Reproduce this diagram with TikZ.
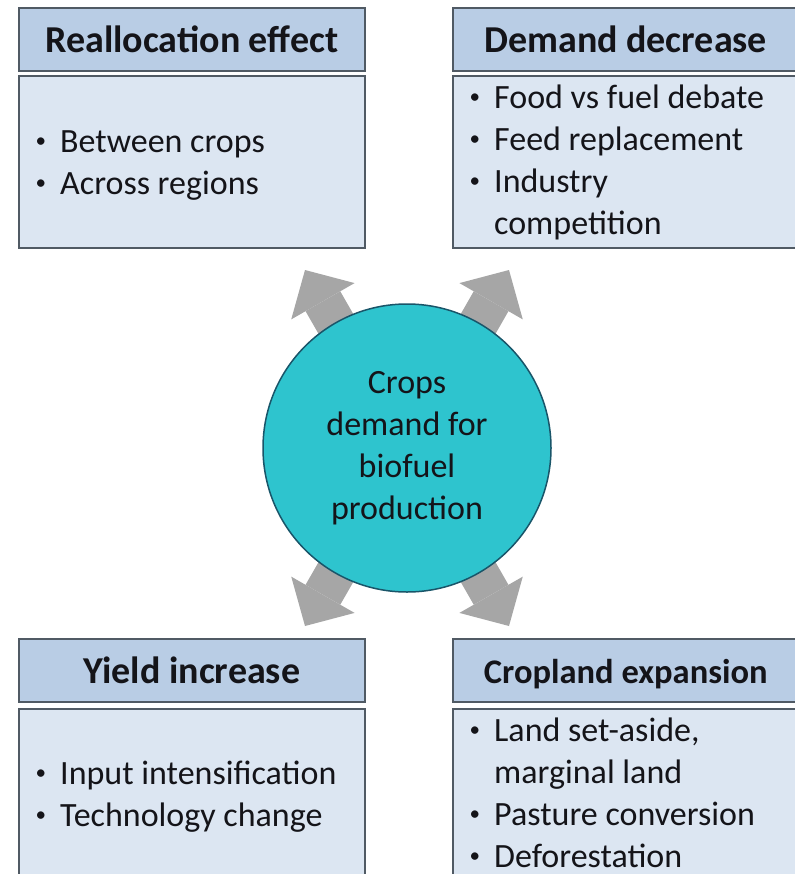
\documentclass[tikz,border=0pt]{standalone}
\usepackage{fontspec}
\setmainfont{Carlito}
\usetikzlibrary{arrows.meta}
\definecolor{hdrfill}{RGB}{185,205,229}
\definecolor{bodyfill}{RGB}{220,230,242}
\definecolor{boxline}{RGB}{80,90,100}
\definecolor{hubfill}{RGB}{46,196,206}
\definecolor{hubline}{RGB}{25,85,105}
\definecolor{arrowgray}{RGB}{166,166,166}
\definecolor{txt}{RGB}{20,20,25}
\newcommand{\bul}{\makebox[27bp][l]{\hspace{2.5bp}\raisebox{4.5bp}{\scalebox{0.62}{•}}}}
\newcommand{\ind}{\hspace*{27bp}}
\tikzset{
  hdrbox/.style={draw=boxline, line width=1.5bp, fill=hdrfill, minimum width=346bp, minimum height=63bp, inner sep=0pt, anchor=north west},
  bodybox/.style={draw=boxline, line width=1.5bp, fill=bodyfill, minimum width=346bp, inner sep=0pt, anchor=north west},
  hdrtext/.style={text=txt, inner sep=0pt, font=\bfseries\fontsize{38bp}{46bp}\selectfont, text height=27bp, text depth=0bp},
  bodytext/.style={text=txt, inner sep=0pt, anchor=base west, font=\fontsize{34bp}{42bp}\selectfont},
  bigarrow/.style={draw=arrowgray, line width=40bp, -{Triangle[width=73bp,length=36bp,line width=0pt]}},
  hub/.style={circle, draw=hubline, line width=1.5bp, fill=hubfill, minimum size=288bp, inner sep=0pt, text=txt, font=\fontsize{34bp}{42bp}\selectfont}
}
\begin{document}
\begin{tikzpicture}[x=1bp, y=-1bp]
\useasboundingbox (0,0) rectangle (795,874);
\fill[white] (0,0) rectangle (795,874);
\begin{scope}
\clip (0,0) rectangle (795,874);
% arrows behind the hub
\coordinate (ctr) at (407,448);
\coordinate (tipUL) at (305,270);
\coordinate (tipUR) at (509,270);
\coordinate (tipLL) at (305,626);
\coordinate (tipLR) at (509,626);
\draw[bigarrow] (ctr) -- (tipUL);
\draw[bigarrow] (ctr) -- (tipUR);
\draw[bigarrow] (ctr) -- (tipLL);
\draw[bigarrow] (ctr) -- (tipLR);
\node[hub] (hub) at (ctr) {\begin{tabular}{@{}c@{}}Crops\\ demand for\\ biofuel\\ production\end{tabular}};

% top left
\node[hdrbox] (tlh) at (18,7) {};
\node[hdrtext] (tlht) at (tlh.center) {Reallocation effect};
\node[bodybox, minimum height=172bp] (tlb) at (18,75) {};
\node[bodytext] (tlbt) at (33,152) {\begin{tabular}[t]{@{}l@{}}\bul Between crops\\ \bul Across regions\end{tabular}};

% top right
\node[hdrbox] (trh) at (452,7) {};
\node[hdrtext] (trht) at (trh.center) {Demand decrease};
\node[bodybox, minimum height=172bp] (trb) at (452,75) {};
\node[bodytext] (trbt) at (467,108) {\begin{tabular}[t]{@{}l@{}}\bul Food vs fuel debate\\ \bul Feed replacement\\ \bul Industry\\ \ind competition\end{tabular}};

% bottom left
\node[hdrbox] (blh) at (18,638) {};
\node[hdrtext] (blht) at (blh.center) {Yield increase};
\node[bodybox, minimum height=190bp] (blb) at (18,708) {};
\node[bodytext] (blbt) at (33,784) {\begin{tabular}[t]{@{}l@{}}\bul Input intensification\\ \bul Technology change\end{tabular}};

% bottom right
\node[hdrbox] (brh) at (452,638) {};
\node[hdrtext, font=\bfseries\fontsize{34.5bp}{42bp}\selectfont] (brht) at (brh.center) {Cropland expansion};
\node[bodybox, minimum height=190bp] (brb) at (452,708) {};
\node[bodytext] (brbt) at (467,741) {\begin{tabular}[t]{@{}l@{}}\bul Land set-aside,\\ \ind marginal land\\ \bul Pasture conversion\\ \bul Deforestation\end{tabular}};
\end{scope}
\end{tikzpicture}
\end{document}
